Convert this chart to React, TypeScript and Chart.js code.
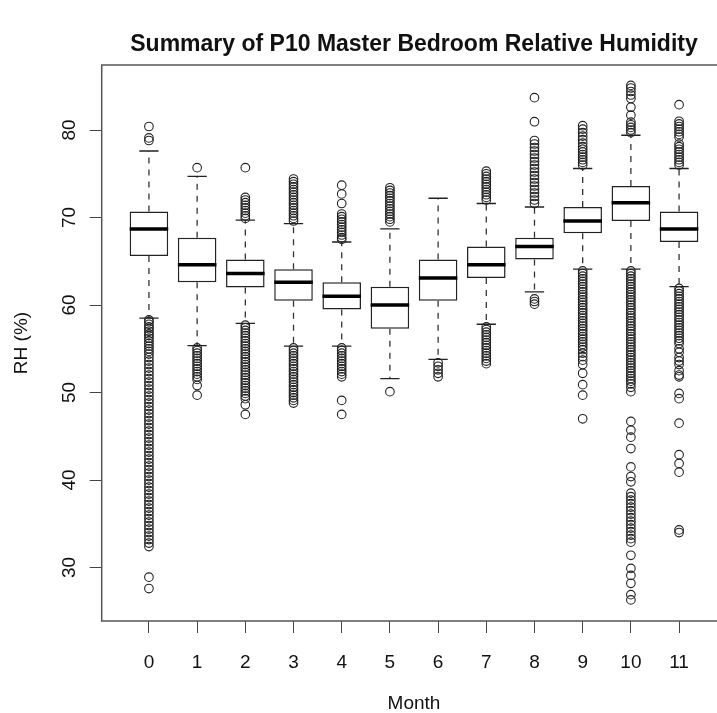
import React, { useEffect, useRef } from 'react';
import { Chart, registerables } from 'chart.js';

Chart.register(...registerables);

const FONT = '"Liberation Sans", Arial, Helvetica, sans-serif';
const TITLE = 'Summary of P10 Master Bedroom Relative Humidity';
const X_TITLE = 'Month';
const Y_TITLE = 'RH (%)';

const months = [0, 1, 2, 3, 4, 5, 6, 7, 8, 9, 10, 11];
const yTicks = [30, 40, 50, 60, 70, 80];

const lowerWhisker = [58.5, 55.35, 57.9, 55.3, 55.3, 51.6, 53.8, 57.8, 61.5, 64.1, 64.1, 62.1];
const q1 = [65.6, 62.6, 62.0, 60.5, 59.5, 57.3, 60.5, 63.1, 65.2, 68.2, 69.6, 67.2];
const median = [68.7, 64.6, 63.6, 62.6, 61.0, 60.0, 63.1, 64.6, 66.7, 69.6, 71.7, 68.7];
const q3 = [70.7, 67.7, 65.2, 64.1, 62.6, 62.1, 65.2, 66.7, 67.7, 71.2, 73.6, 70.7];
const upperWhisker = [77.6, 74.7, 69.7, 69.3, 67.2, 68.7, 72.2, 71.6, 71.2, 75.6, 79.4, 75.6];

const outliers0 = [80.4, 79.1, 78.8,
  58.3, 58.1, 57.8, 57.5, 57.3, 57.0, 56.7, 56.5, 56.2, 55.9, 55.6, 55.3, 55.0, 54.7, 54.4, 54.0, 53.6,
  53.2, 52.8, 52.4, 52.0, 51.6, 51.2, 50.8, 50.4, 50.0, 49.6, 49.2, 48.8, 48.4, 48.0, 47.6, 47.2, 46.8,
  46.4, 46.0, 45.6, 45.2, 44.8, 44.4, 44.0, 43.6, 43.2, 42.8, 42.4, 42.0, 41.6, 41.2, 40.8, 40.4, 40.0,
  39.6, 39.2, 38.8, 38.4, 38.0, 37.6, 37.2, 36.8, 36.4, 36.0, 35.6, 35.2, 34.8, 34.4, 34.0, 33.6, 33.2,
  32.8, 32.4, 28.9, 27.6];
const outliers1 = [75.7,
  55.1, 54.8, 54.5, 54.2, 53.9, 53.6, 53.3, 53.0, 52.7, 52.4, 52.1, 51.8, 51.5, 50.8, 49.7];
const outliers2 = [75.7, 72.3, 72.0, 71.7, 71.4, 71.1, 70.8, 70.5, 70.2, 69.9,
  57.7, 57.4, 57.1, 56.8, 56.5, 56.2, 55.9, 55.6, 55.3, 55.0, 54.7, 54.4, 54.1, 53.8, 53.5, 53.2, 52.9,
  52.6, 52.3, 52.0, 51.7, 51.4, 51.1, 50.8, 50.5, 50.2, 49.9, 49.6, 49.3, 48.6, 47.5];
const outliers3 = [74.4, 74.1, 73.8, 73.5, 73.2, 72.9, 72.6, 72.3, 72.0, 71.7, 71.4, 71.1, 70.8, 70.5,
  70.2, 69.9, 69.6,
  55.1, 54.8, 54.5, 54.2, 53.9, 53.6, 53.3, 53.0, 52.7, 52.4, 52.1, 51.8, 51.5, 51.2, 50.9, 50.6, 50.3,
  50.0, 49.7, 49.4, 49.1, 48.8];
const outliers4 = [73.7, 72.7, 71.6, 70.4, 70.1, 69.8, 69.5, 69.2, 68.9, 68.6, 68.3, 68.0, 67.7, 67.5,
  55.1, 54.8, 54.5, 54.2, 53.9, 53.6, 53.3, 53.0, 52.7, 52.4, 52.1, 51.8, 49.1, 47.5];
const outliers5 = [73.4, 73.1, 72.8, 72.5, 72.2, 71.9, 71.6, 71.3, 71.0, 70.7, 70.4, 70.1, 69.8, 69.5,
  50.1];
const outliers6 = [53.4, 53.0, 52.6, 52.2, 51.8];
const outliers7 = [75.3, 75.0, 74.7, 74.4, 74.1, 73.8, 73.5, 73.2, 72.9, 72.6, 72.3, 72.0,
  57.5, 57.2, 56.9, 56.6, 56.3, 56.0, 55.7, 55.4, 55.1, 54.8, 54.5, 54.2, 53.9, 53.6, 53.3];
const outliers8 = [83.7, 80.95, 78.8, 78.4, 78.0, 77.6, 77.2, 76.8, 76.4, 76.0, 75.6, 75.2, 74.8, 74.4,
  74.0, 73.6, 73.2, 72.8, 72.4, 72.0, 71.6,
  60.7, 60.4, 60.1];
const outliers9 = [80.5, 80.1, 79.7, 79.3, 78.9, 78.5, 78.1, 77.8, 77.5, 77.2, 76.9, 76.6, 76.3, 76.0,
  63.9, 63.6, 63.3, 63.0, 62.7, 62.4, 62.1, 61.8, 61.5, 61.2, 60.9, 60.6, 60.3, 60.0, 59.7, 59.4, 59.1,
  58.8, 58.5, 58.2, 57.9, 57.6, 57.3, 57.0, 56.7, 56.4, 56.1, 55.8, 55.5, 55.2, 54.9, 54.5, 54.1, 53.7,
  53.2, 52.2, 50.9, 49.7, 47.0];
const outliers10 = [85.1, 84.8, 84.4, 84.0, 83.6, 82.6, 81.7, 80.9, 80.6, 80.3, 80.0, 79.7,
  63.9, 63.6, 63.3, 63.0, 62.7, 62.4, 62.1, 61.8, 61.5, 61.2, 60.9, 60.6, 60.3, 60.0, 59.7, 59.4, 59.1,
  58.8, 58.5, 58.2, 57.9, 57.6, 57.3, 57.0, 56.7, 56.4, 56.1, 55.8, 55.5, 55.2, 54.9, 54.6, 54.3, 54.0,
  53.7, 53.4, 53.1, 52.8, 52.5, 52.2, 51.9, 51.6, 51.3, 51.0, 50.6, 50.1,
  46.7, 45.7, 44.9, 43.6, 41.5, 40.4, 39.8,
  38.5, 38.1, 37.7, 37.3, 36.9, 36.5, 36.1, 35.7, 35.3, 34.9, 34.5, 34.1, 33.7, 33.3, 32.9,
  31.4, 29.9, 29.1, 28.2, 26.9, 26.3];
const outliers11 = [82.9, 81.0, 80.7, 80.4, 80.1, 79.8, 79.5, 79.2, 78.4, 78.1, 77.8, 77.5, 77.2, 76.9,
  76.6, 76.3, 76.0,
  61.9, 61.6, 61.3, 61.0, 60.7, 60.4, 60.1, 59.8, 59.5, 59.2, 58.9, 58.6, 58.3, 58.0, 57.7, 57.4, 57.1,
  56.8, 56.5, 56.2, 55.9, 55.6, 55.0, 54.6, 54.0, 53.6, 53.2, 52.5, 52.0, 51.8, 49.9, 49.3, 46.5, 42.9,
  41.9, 40.9, 34.3, 34.0];

const outliers = [outliers0, outliers1, outliers2, outliers3, outliers4, outliers5, outliers6,
  outliers7, outliers8, outliers9, outliers10, outliers11];

const framePlugin = {
  id: 'rframe',
  afterDatasetsDraw(chart: any) {
    const { ctx, chartArea } = chart;
    ctx.save();
    ctx.strokeStyle = '#555';
    ctx.lineWidth = 1.5;
    ctx.strokeRect(chartArea.left, chartArea.top, chartArea.right - chartArea.left, chartArea.bottom - chartArea.top);
    ctx.restore();
  },
};

export default function App() {
  const ref = useRef<HTMLCanvasElement>(null);

  useEffect(() => {
    if (!ref.current) return;
    const boxHalf = 0.4;
    const capHalf = 0.2;

    const boxData = months.map((m, i) => ({ x: m, y: [q1[i], q3[i]] }));
    const whiskerData: any[] = [];
    const capData: any[] = [];
    const medianData: any[] = [];
    const outlierData: any[] = [];
    months.forEach((m, i) => {
      whiskerData.push({ x: m, y: q3[i] }, { x: m, y: upperWhisker[i] }, { x: m, y: null });
      whiskerData.push({ x: m, y: q1[i] }, { x: m, y: lowerWhisker[i] }, { x: m, y: null });
      capData.push({ x: m - capHalf, y: upperWhisker[i] }, { x: m + capHalf, y: upperWhisker[i] }, { x: m, y: null });
      capData.push({ x: m - capHalf, y: lowerWhisker[i] }, { x: m + capHalf, y: lowerWhisker[i] }, { x: m, y: null });
      medianData.push({ x: m - boxHalf, y: median[i] }, { x: m + boxHalf, y: median[i] }, { x: m, y: null });
      outliers[i].forEach((v) => outlierData.push({ x: m, y: v }));
    });

    const chart = new Chart(ref.current, {
      type: 'bar',
      data: {
        datasets: [
          {
            type: 'bar',
            data: boxData as any,
            backgroundColor: '#ffffff',
            borderColor: '#222',
            borderWidth: 1.5,
            borderSkipped: false,
            barPercentage: 1,
            categoryPercentage: 0.8,
            order: 4,
          } as any,
          {
            type: 'line',
            data: whiskerData,
            borderColor: '#333',
            borderWidth: 1.3,
            borderDash: [6, 6],
            pointRadius: 0,
            spanGaps: false,
            order: 3,
          } as any,
          {
            type: 'line',
            data: capData,
            borderColor: '#222',
            borderWidth: 1.3,
            pointRadius: 0,
            spanGaps: false,
            order: 2,
          } as any,
          {
            type: 'line',
            data: medianData,
            borderColor: '#000',
            borderWidth: 3.5,
            borderCapStyle: 'butt',
            pointRadius: 0,
            spanGaps: false,
            order: 0,
          } as any,
          {
            type: 'scatter',
            data: outlierData,
            pointRadius: 4.3,
            pointBorderWidth: 1.1,
            pointBorderColor: '#222',
            pointBackgroundColor: 'rgba(0,0,0,0)',
            order: 1,
          } as any,
        ],
      },
      options: {
        animation: false,
        responsive: true,
        maintainAspectRatio: false,
        events: [],
        layout: { padding: { left: 0, right: 13.7, top: 0, bottom: 0 } },
        plugins: {
          legend: { display: false },
          tooltip: { enabled: false },
          title: {
            display: true,
            text: TITLE,
            fullSize: false,
            color: '#111',
            font: { family: FONT, size: 23, weight: 'bold' },
            padding: { top: 31, bottom: 6.4 },
          },
        },
        scales: {
          x: {
            type: 'linear',
            offset: false,
            min: -0.98,
            max: 11.98,
            afterBuildTicks: (axis: any) => {
              axis.ticks = months.map((v) => ({ value: v }));
            },
            afterFit: (axis: any) => {
              axis.height = 92;
            },
            grid: { offset: false, drawOnChartArea: false, drawTicks: true, tickLength: 12, color: '#444', lineWidth: 1 },
            border: { display: false },
            ticks: {
              color: '#111',
              font: { family: FONT, size: 19 },
              padding: 18.6,
              autoSkip: false,
              maxRotation: 0,
              minRotation: 0,
            },
            title: {
              display: true,
              text: X_TITLE,
              color: '#111',
              font: { family: FONT, size: 19, lineHeight: 1 },
              padding: { top: 0, bottom: 0 },
            },
          },
          y: {
            type: 'linear',
            min: 23.89,
            max: 87.43,
            afterBuildTicks: (axis: any) => {
              axis.ticks = yTicks.map((v) => ({ value: v }));
            },
            afterFit: (axis: any) => {
              axis.width = 101.7;
            },
            grid: { drawOnChartArea: false, drawTicks: true, tickLength: 12, color: '#444', lineWidth: 1 },
            border: { display: false },
            ticks: {
              color: '#111',
              font: { family: FONT, size: 19 },
              padding: 9.5,
              minRotation: 90,
              maxRotation: 90,
              crossAlign: 'center',
            },
            title: {
              display: true,
              text: Y_TITLE,
              color: '#111',
              font: { family: FONT, size: 19 },
              padding: { top: 10.6, bottom: 0 },
            },
          },
        },
      } as any,
      plugins: [framePlugin],
    });

    return () => chart.destroy();
  }, []);

  return (
    <div style={{ position: 'fixed', left: 0, top: 0, width: 717, height: 713, overflow: 'hidden', background: '#fff' }}>
      <div style={{ position: 'relative', width: 740, height: 713 }}>
        <canvas ref={ref} />
      </div>
    </div>
  );
}
